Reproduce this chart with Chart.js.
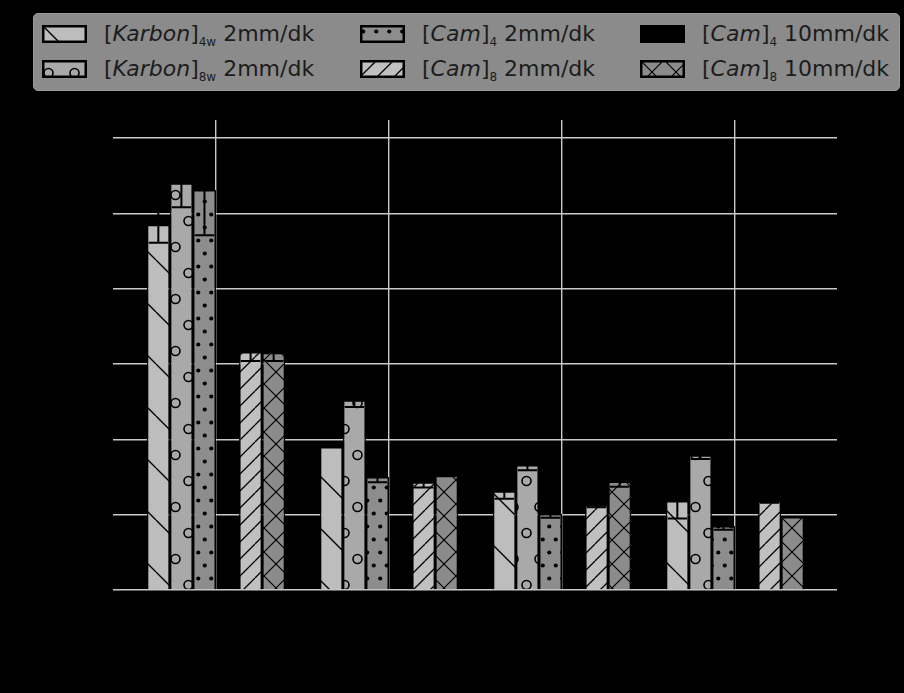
<!DOCTYPE html>
<html>
<head>
<meta charset="utf-8">
<script src="https://cdn.jsdelivr.net/npm/chart.js@4.4.0/dist/chart.umd.min.js"></script>
<style>
  html, body { margin: 0; padding: 0; background: #000; }
  #wrap { position: relative; width: 904px; height: 693px; overflow: hidden; }
  #legend {
    position: absolute; left: 33px; top: 13px; width: 865px; height: 76px;
    background: #8b8b8b; border: 1px solid #9c9c9c; border-radius: 5px;
    font-family: "DejaVu Sans", sans-serif; font-size: 22px; color: #1c1c1c;
  }
  .item { position: absolute; white-space: nowrap; }
  .item canvas { position: absolute; left: 0; top: 0; }
  .item span { position: absolute; top: -4px; line-height: 26px; }
  .item i { font-style: oblique; }
  .item sub { font-size: 12px; vertical-align: -5px; line-height: 0; }
</style>
</head>
<body>
<div id="wrap">
  <canvas id="chart" width="904" height="693"></canvas>
  <div id="legend"></div>
</div>
<script>
// Group positions on the x axis (one per measurement group)
const groups = [0, 1, 2, 3];
const yTicks = [0, 1, 2, 3, 4, 5, 6];

// Mean values per series
const karbon4w  = [4.85, 1.90, 1.31, 1.18];
const karbon8w  = [5.40, 2.52, 1.66, 1.79];
const cam4_2mm  = [5.31, 1.50, 1.01, 0.85];
const cam4_10mm = [null, null, null, null];
const cam8_2mm  = [3.16, 1.43, 1.13, 1.18];
const cam8_10mm = [3.15, 1.53, 1.44, 0.97];

// Error-bar half widths per series
const karbon4wErr  = [0.24, 0.00, 0.10, 0.23];
const karbon8wErr  = [0.32, 0.09, 0.07, 0.05];
const cam4_2mmErr  = [0.60, 0.07, 0.05, 0.05];
const cam4_10mmErr = [0, 0, 0, 0];
const cam8_2mmErr  = [0.12, 0.07, 0.03, 0.02];
const cam8_10mmErr = [0.11, 0.02, 0.07, 0.00];

// Legend texts: [prefix name, subscript, suffix]
const legendTexts = {
  k4:  ['Karbon', '4w', ' 2mm/dk'],
  k8:  ['Karbon', '8w', ' 2mm/dk'],
  c42: ['Cam', '4', ' 2mm/dk'],
  c82: ['Cam', '8', ' 2mm/dk'],
  c410:['Cam', '4', ' 10mm/dk'],
  c810:['Cam', '8', ' 10mm/dk']
};

// ---- hatch patterns ----
function tile(w, h, bg, draw) {
  const c = document.createElement('canvas');
  c.width = w; c.height = h;
  const g = c.getContext('2d');
  g.fillStyle = bg; g.fillRect(0, 0, w, h);
  g.strokeStyle = '#000'; g.fillStyle = '#000';
  draw(g, w, h);
  return c;
}
function backDiag(g, s, lw) {           // "\" lines
  g.lineWidth = lw; g.beginPath();
  for (const k of [-s, 0, s]) { g.moveTo(k, 0); g.lineTo(k + s, s); }
  g.stroke();
}
function fwdDiag(g, s, lw) {            // "/" lines
  g.lineWidth = lw; g.beginPath();
  for (const k of [-s, 0, s]) { g.moveTo(k, s); g.lineTo(k + s, 0); }
  g.stroke();
}
const tiles = {
  k4: tile(52, 52, '#bdbdbd', (g, w) => backDiag(g, w, 1.4)),
  k8: tile(26, 52, '#a9a9a9', (g) => {
    g.lineWidth = 1.6;
    for (const [x, y] of [[6.5, 13], [19.5, 39]]) {
      g.beginPath(); g.arc(x, y, 4.5, 0, Math.PI * 2); g.stroke();
    }
  }),
  c42: tile(13, 26, '#8d8d8d', (g) => {
    for (const [x, y] of [[3.25, 6.5], [9.75, 19.5]]) {
      g.beginPath(); g.arc(x, y, 2.1, 0, Math.PI * 2); g.fill();
    }
  }),
  c410: tile(8, 8, '#000000', () => {}),
  c82: tile(17, 17, '#c0c0c0', (g, w) => fwdDiag(g, w, 1.3)),
  c810: tile(24, 24, '#8b8b8b', (g, w) => { backDiag(g, w, 1.2); fwdDiag(g, w, 1.2); })
};
const probe = document.createElement('canvas').getContext('2d');
const pattern = key => probe.createPattern(tiles[key], 'repeat');

function series(label, values, errors, key) {
  return {
    label,
    data: groups.map((x, i) => ({ x, y: values[i] })),
    errors,
    key,
    backgroundColor: pattern(key),
    borderColor: '#000',
    borderWidth: 1.5
  };
}

const datasets = [
  series('[Karbon]4w 2mm/dk', karbon4w, karbon4wErr, 'k4'),
  series('[Karbon]8w 2mm/dk', karbon8w, karbon8wErr, 'k8'),
  series('[Cam]4 2mm/dk', cam4_2mm, cam4_2mmErr, 'c42'),
  series('[Cam]4 10mm/dk', cam4_10mm, cam4_10mmErr, 'c410'),
  series('[Cam]8 2mm/dk', cam8_2mm, cam8_2mmErr, 'c82'),
  series('[Cam]8 10mm/dk', cam8_10mm, cam8_10mmErr, 'c810')
];

// Black error bars with caps, drawn over the bars
const errorBars = {
  id: 'errorBars',
  afterDatasetsDraw(chart) {
    const ctx = chart.ctx, ys = chart.scales.y;
    chart.data.datasets.forEach((ds, i) => {
      const meta = chart.getDatasetMeta(i);
      meta.data.forEach((bar, j) => {
        const v = ds.data[j].y, e = ds.errors[j];
        if (v == null || !e) return;
        const top = ys.getPixelForValue(v + e), bot = ys.getPixelForValue(v - e);
        const half = bar.width * 0.42;
        ctx.save();
        ctx.strokeStyle = '#000'; ctx.lineWidth = 2;
        ctx.beginPath();
        ctx.moveTo(bar.x, top); ctx.lineTo(bar.x, bot);
        ctx.moveTo(bar.x - half, top); ctx.lineTo(bar.x + half, top);
        ctx.moveTo(bar.x - half, bot); ctx.lineTo(bar.x + half, bot);
        ctx.stroke();
        ctx.restore();
      });
    });
  }
};

new Chart(document.getElementById('chart'), {
  type: 'bar',
  data: { datasets },
  options: {
    responsive: false,
    animation: false,
    categoryPercentage: 0.8,
    barPercentage: 1.0,
    layout: { padding: { left: 0, right: 67, top: 120, bottom: 0 } },
    plugins: { legend: { display: false }, tooltip: { enabled: false } },
    scales: {
      x: {
        type: 'linear',
        min: -0.5954, max: 3.5896,
        offset: false,
        afterBuildTicks: s => { s.ticks = groups.map(v => ({ value: v })); },
        afterFit: s => { s.height = 103; },
        grid: { offset: false, color: '#c9c9c9', lineWidth: 1.4, drawTicks: false },
        border: { display: false },
        ticks: { display: false }
      },
      y: {
        min: 0, max: 6.24,
        afterBuildTicks: s => { s.ticks = yTicks.map(v => ({ value: v })); },
        afterFit: s => { s.width = 113; },
        grid: { color: '#c9c9c9', lineWidth: 1.4, drawTicks: false },
        border: { display: false },
        ticks: { display: false }
      }
    }
  },
  plugins: [errorBars]
});

// ---- legend (three columns, two rows) ----
const legendLayout = [
  ['k4', 8, 11], ['k8', 8, 46],
  ['c42', 326, 11], ['c82', 326, 46],
  ['c410', 606, 11], ['c810', 606, 46]
];
const legendEl = document.getElementById('legend');
legendLayout.forEach(([key, x, y]) => {
  const item = document.createElement('div');
  item.className = 'item';
  item.style.left = x + 'px'; item.style.top = y + 'px';
  const sw = document.createElement('canvas');
  sw.width = 45; sw.height = 18;
  const g = sw.getContext('2d');
  g.fillStyle = g.createPattern(tiles[key], 'repeat');
  g.fillRect(0, 0, 45, 18);
  g.strokeStyle = '#000'; g.lineWidth = 2.5;
  g.strokeRect(1.25, 1.25, 42.5, 15.5);
  item.appendChild(sw);
  const [name, sub, rest] = legendTexts[key];
  const t = document.createElement('span');
  t.style.left = '62px';
  t.innerHTML = '[<i>' + name + '</i>]<sub>' + sub + '</sub>' + rest;
  item.appendChild(t);
  legendEl.appendChild(item);
});
</script>
</body>
</html>
